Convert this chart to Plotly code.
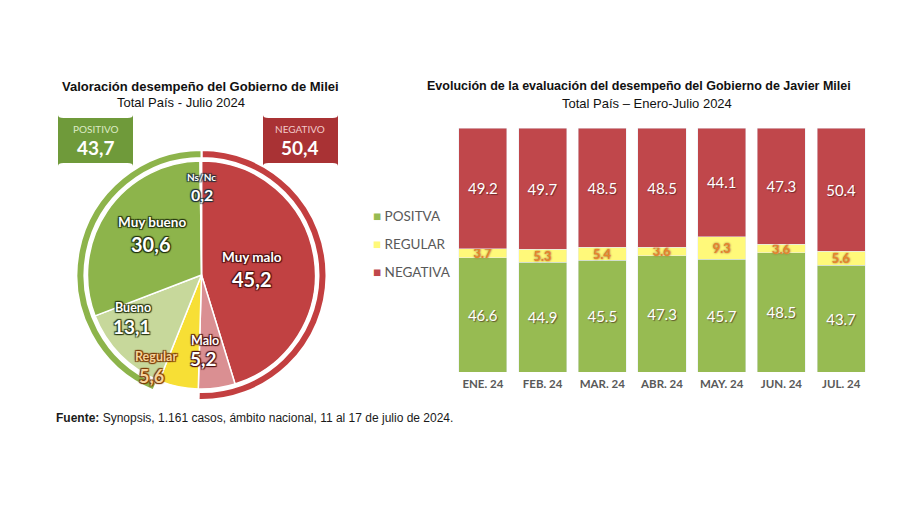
import plotly.graph_objects as go

# ---------------- data ----------------
pie_labels = ["Muy malo", "Malo", "Regular", "Bueno", "Muy bueno", "Ns/Nc"]
pie_values = [45.2, 5.2, 5.6, 13.1, 30.6, 0.2]
pie_colors = ["#C14142", "#DA8F92", "#F7DF35", "#C7D89B", "#8DB44B", "#E8E8E8"]

months = ["ENE. 24", "FEB. 24", "MAR. 24", "ABR. 24", "MAY. 24", "JUN. 24", "JUL. 24"]
positiva = [46.6, 44.9, 45.5, 47.3, 45.7, 48.5, 43.7]
regular = [3.7, 5.3, 5.4, 3.6, 9.3, 3.6, 5.6]
negativa = [49.2, 49.7, 48.5, 48.5, 44.1, 47.3, 50.4]
legend_names = ["POSITVA", "REGULAR", "NEGATIVA"]

C_GREEN = "#97BB52"
C_YELLOW = "#FFF97A"
C_RED = "#C0474B"

W, H = 900, 506
OFF = 8  # page body margin


def px(x):
    return (x - OFF) / W


def py(y):
    return 1 - (y - OFF) / H


positivo_total = round(pie_values[3] + pie_values[4], 1)
negativo_total = round(pie_values[0] + pie_values[1], 1)
ring_gap = round(100 - positivo_total - negativo_total, 1)


def fmt_es(v):
    return f"{v:.1f}".replace(".", ",")


fig = go.Figure()

# ---------------- outer ring ----------------
cx, cy = 201.5, 275
R_out, R_pie = 125, 114
fig.add_trace(go.Pie(
    values=[negativo_total, ring_gap, positivo_total],
    labels=["NEGATIVO", "gap", "POSITIVO"],
    marker=dict(colors=["#C33F40", "rgba(0,0,0,0)", "#8DB44B"],
                line=dict(color="white", width=2)),
    hole=117 / 125,
    sort=False, direction="clockwise", rotation=0,
    textinfo="none", hoverinfo="skip", showlegend=False,
    domain=dict(x=[px(cx - R_out), px(cx + R_out)], y=[py(cy + R_out), py(cy - R_out)]),
))

# ---------------- pie ----------------
fig.add_trace(go.Pie(
    values=pie_values, labels=pie_labels,
    marker=dict(colors=pie_colors, line=dict(color="white", width=1.5)),
    sort=False, direction="clockwise", rotation=0,
    textinfo="none", showlegend=False,
    domain=dict(x=[px(cx - R_pie), px(cx + R_pie)], y=[py(cy + R_pie), py(cy - R_pie)]),
))

# ---------------- stacked bars ----------------
bar_font = "Lato, Calibri, Arial, sans-serif"
white_lbl = dict(color="white", size=15, family=bar_font,
                 shadow="1px 1px 1px rgba(60,20,20,0.6)")
for vals, nm, col, tf in [
    (positiva, legend_names[0], C_GREEN, white_lbl),
    (regular, legend_names[1], C_YELLOW,
     dict(color="#E8862A", size=13, family=bar_font, weight="bold",
          shadow="0px 0px 2px #8a4a0a, 0px 0px 1px #ffffff")),
    (negativa, legend_names[2], C_RED, white_lbl),
]:
    fig.add_trace(go.Bar(
        x=months, y=vals, name=nm, marker_color=col,
        text=[f"{v:.1f}" for v in vals], textposition="inside",
        insidetextanchor="middle", constraintext="none", textangle=0,
        textfont=tf, showlegend=False, hoverinfo="x+y+name",
    ))

fig.update_layout(
    width=W, height=H,
    margin=dict(l=0, r=0, t=0, b=0),
    paper_bgcolor="white", plot_bgcolor="white",
    barmode="stack", barnorm="percent", bargap=0.195,
    xaxis=dict(domain=[px(453), px(871)], showgrid=False, showline=False, zeroline=False,
               ticks="", ticklabelstandoff=3,
               tickfont=dict(family=bar_font, size=11.5, color="#595959", weight="bold"),
               fixedrange=True),
    yaxis=dict(domain=[py(372), py(128)], range=[0, 100], visible=False, fixedrange=True),
    showlegend=False,
    font=dict(family="Liberation Sans, Arial, sans-serif"),
)

ann = []
title_font = "Liberation Sans, Arial, sans-serif"
ann.append(dict(x=px(200), y=py(86), text="<b>Valoración desempeño del Gobierno de Milei</b>",
                font=dict(family=title_font, size=13, color="#111111")))
ann.append(dict(x=px(180.5), y=py(102.5), text="Total País - Julio 2024",
                font=dict(family=title_font, size=13, color="#111111")))
ann.append(dict(x=px(639), y=py(86),
                text="<b>Evolución de la evaluación del desempeño del Gobierno de Javier Milei</b>",
                font=dict(family=title_font, size=12.5, color="#111111")))
ann.append(dict(x=px(646.5), y=py(103), text="Total País – Enero-Julio 2024",
                font=dict(family=title_font, size=13, color="#111111")))

# legend (right chart)
for i, (nm, col) in enumerate(zip(legend_names, [C_GREEN, C_YELLOW, C_RED])):
    ann.append(dict(x=px(371), y=py(215.7 + 28.3 * i), xanchor="left",
                    text=f"<span style='color:{col}'>■</span> {nm}",
                    font=dict(family=bar_font, size=13.5, color="#595959")))

# footnote
ann.append(dict(x=px(54), y=py(418), xanchor="left",
                text="<b>Fuente:</b> Synopsis, 1.161 casos, ámbito nacional, 11 al 17 de julio de 2024.",
                font=dict(family=title_font, size=12, color="#1a1a1a")))

# boxes text
ann.append(dict(x=px(95.5), y=py(129), text="POSITIVO",
                font=dict(family=bar_font, size=10, color="#DCEBC4")))
ann.append(dict(x=px(95.5), y=py(148), text=f"<b>{fmt_es(positivo_total)}</b>",
                font=dict(family=bar_font, size=19, color="white")))
ann.append(dict(x=px(300), y=py(129), text="NEGATIVO",
                font=dict(family=bar_font, size=10, color="#F2C9C9")))
ann.append(dict(x=px(300), y=py(148), text=f"<b>{fmt_es(negativo_total)}</b>",
                font=dict(family=bar_font, size=19, color="white")))

# pie labels
label_pos = {
    "Muy malo": ((251.7, 257), (251.7, 279), 13.5, 20, "#4a1010"),
    "Malo": ((205, 340), (203, 358), 12.5, 19, "#4a1010"),
    "Regular": ((156, 356), (151.7, 376), 12.5, 18, "#7a3a05"),
    "Bueno": ((133, 307), (131.7, 326), 12.5, 19, "#2a3a12"),
    "Muy bueno": ((151.7, 222), (150, 244), 13.5, 20, "#22320e"),
    "Ns/Nc": ((201.7, 177), (201.7, 194), 10, 16, "#1f2f3a"),
}
for lab, val in zip(pie_labels, pie_values):
    (lx, ly), (vx, vy), s1, s2, sh = label_pos[lab]
    col = "#F6D29A" if lab == "Regular" else "white"
    shadow = (f"1px 1px 1px {sh}, -1px -1px 1px {sh}, 1px -1px 1px {sh}, "
              f"-1px 1px 1px {sh}")
    ann.append(dict(x=px(lx), y=py(ly), text=f"<b>{lab}</b>",
                    font=dict(family=bar_font, size=s1, color=col, shadow=shadow)))
    ann.append(dict(x=px(vx), y=py(vy), text=f"<b>{fmt_es(val)}</b>",
                    font=dict(family=bar_font, size=s2, color=col, shadow=shadow)))

for a in ann:
    a.setdefault("xref", "paper")
    a.setdefault("yref", "paper")
    a.setdefault("showarrow", False)
    a.setdefault("xanchor", "center")
    a.setdefault("yanchor", "middle")

fig.update_layout(annotations=ann)


def rounded_rect(x0, y0, x1, y1, r):
    return (f"M{x0 + r},{y0} L{x1 - r},{y0} Q{x1},{y0} {x1},{y0 + r} "
            f"L{x1},{y1 - r} Q{x1},{y1} {x1 - r},{y1} L{x0 + r},{y1} "
            f"Q{x0},{y1} {x0},{y1 - r} L{x0},{y0 + r} Q{x0},{y0} {x0 + r},{y0} Z")


shapes = []
for (x0, x1, col) in [(58, 133, "#6F9A3A"), (263, 338, "#A93234")]:
    shapes.append(dict(type="path", xref="paper", yref="paper",
                       path=rounded_rect(px(x0), py(118), px(x1), py(163), 0.006),
                       fillcolor=col, line=dict(width=0), layer="below"))
fig.update_layout(shapes=shapes)

fig.write_html("out.html")
